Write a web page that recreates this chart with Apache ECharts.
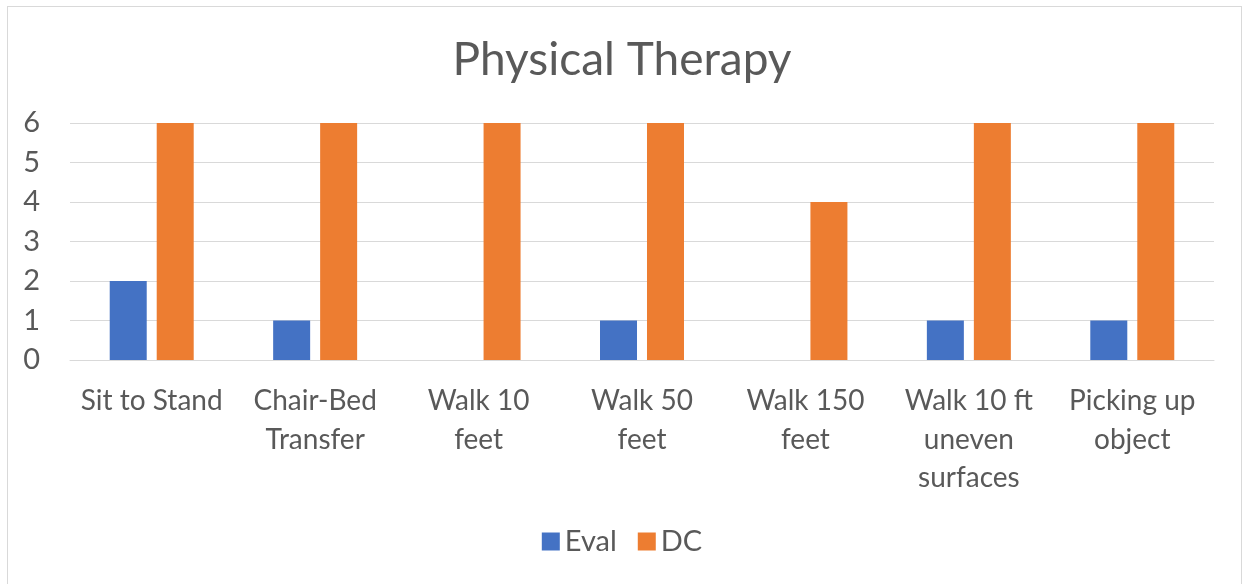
<!DOCTYPE html>
<html>
<head>
<meta charset="utf-8">
<script src="https://cdn.jsdelivr.net/npm/echarts@6/dist/echarts.min.js"></script>
<style>
  html, body { margin: 0; padding: 0; background: #fff; }
  #frame { position: absolute; left: 7px; top: 6px; width: 1233px; height: 600px; border: 1px solid #d9d9d9; }
  #chart { position: absolute; left: 0; top: 0; width: 1244px; height: 584px; }
</style>
</head>
<body>
<div id="frame"></div>
<div id="chart"></div>
<script>
// tick labels already wrapped the way the source chart shows them
const categories = [
  'Sit to Stand',
  'Chair-Bed\nTransfer',
  'Walk 10\nfeet',
  'Walk 50\nfeet',
  'Walk 150\nfeet',
  'Walk 10 ft\nuneven\nsurfaces',
  'Picking up\nobject',
]
const evalValues = [2, 1, 0, 1, 0, 1, 1]
const dcValues = [6, 6, 6, 6, 4, 6, 6]

const FONT = "Lato, 'Noto Sans', sans-serif"
const TEXT = '#595959'
const GRID_LINE = '#d9d9d9'

const chart = echarts.init(document.getElementById('chart'), null, { renderer: 'canvas' })

chart.setOption({
  animation: false,
  title: {
    text: 'Physical Therapy',
    left: 'center',
    top: 32,
    textStyle: { color: TEXT, fontFamily: FONT, fontSize: 46, fontWeight: 'normal' },
  },
  legend: {
    data: ['Eval', 'DC'],
    bottom: 23,
    left: 'center',
    itemWidth: 18,
    itemHeight: 18,
    itemGap: 21,
    icon: 'rect',
    textStyle: { color: TEXT, fontFamily: FONT, fontSize: 29 },
  },
  grid: { left: 70, right: 30, top: 123, bottom: 224 },
  xAxis: {
    type: 'category',
    data: categories,
    axisLine: { lineStyle: { color: GRID_LINE } },
    axisTick: { show: false },
    axisLabel: {
      color: TEXT, fontFamily: FONT, fontSize: 28, lineHeight: 38.5,
      margin: 22, interval: 0,
    },
  },
  yAxis: {
    type: 'value',
    min: 0,
    max: 6,
    interval: 1,
    axisLine: { show: false },
    axisTick: { show: false },
    axisLabel: { color: TEXT, fontFamily: FONT, fontSize: 29, margin: 30 },
    splitLine: { lineStyle: { color: GRID_LINE, width: 1 } },
  },
  series: [
    {
      name: 'Eval',
      type: 'bar',
      data: evalValues,
      barWidth: 37,
      barGap: '27%',
      itemStyle: { color: '#4472c4' },
    },
    {
      name: 'DC',
      type: 'bar',
      data: dcValues,
      barWidth: 37,
      itemStyle: { color: '#ed7d31' },
    },
  ],
})
</script>
</body>
</html>
